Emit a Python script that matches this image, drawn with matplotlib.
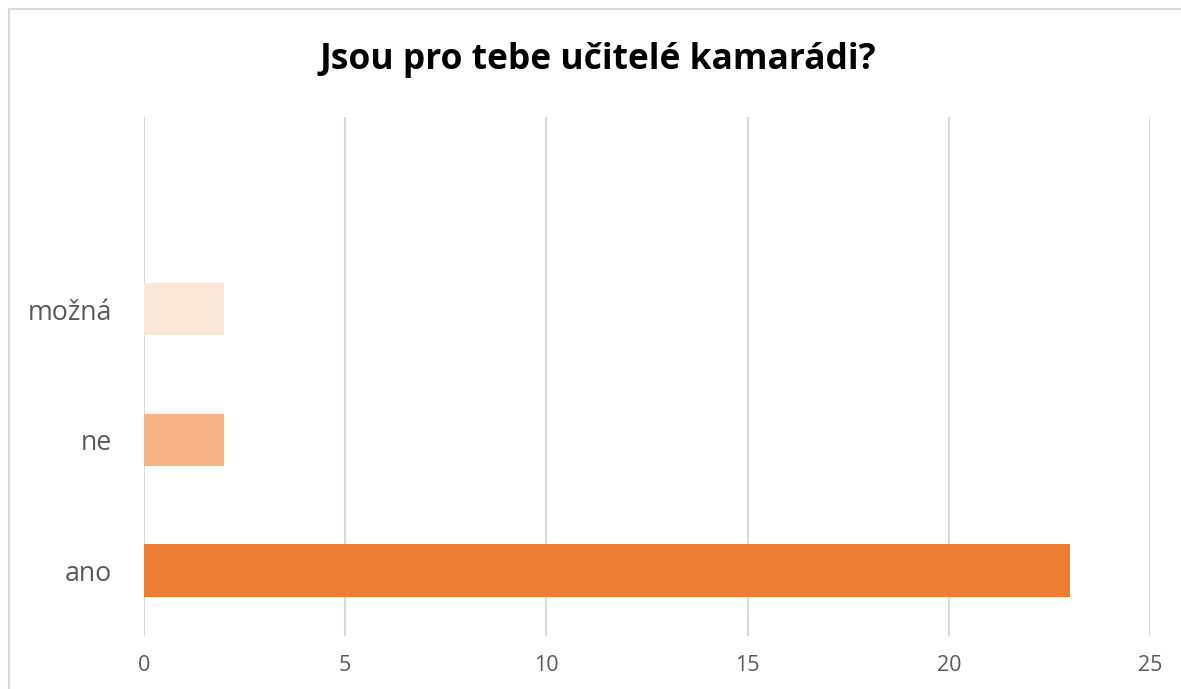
import matplotlib
matplotlib.use("Agg")
import matplotlib.pyplot as plt
from matplotlib.lines import Line2D

categories = ["ano", "ne", "možná"]
values = [23, 2, 2]
colors = ["#ED7D31", "#F4B183", "#FBE5D6"]
xticks = [0, 5, 10, 15, 20, 25]
title = "Jsou pro tebe učitelé kamarádi?"

plt.rcParams['font.family'] = ['Open Sans', 'DejaVu Sans']

fig = plt.figure(figsize=(11.81, 6.89), dpi=100)
ax = fig.add_axes([144/1181, 1-636/689, (1150-144)/1181, (636-117)/689])

ax.barh(range(len(categories)), values, height=0.4, color=colors, zorder=3)
ax.set_xlim(0, 25)
ax.set_ylim(-0.5, 3.47)
ax.set_xticks(xticks)
ax.set_xticklabels([str(t) for t in xticks], fontsize=15.5, color="#595959")
ax.set_yticks(range(len(categories)))
ax.set_yticklabels(categories, fontsize=19.3, color="#595959")
ax.tick_params(axis='both', length=0)
ax.tick_params(axis='x', pad=14)
ax.tick_params(axis='y', pad=23)
ax.grid(axis='x', color="#D9D9D9", linewidth=1.5, zorder=0)
for s in ax.spines.values():
    s.set_visible(False)

fig.text(598/1181, 1-60/689, title, fontsize=25.5, fontweight='bold', ha='center', va='center', color='black')

# chart border
fig.add_artist(Line2D([8.5/1181, 8.5/1181], [0, 1-8.5/689], transform=fig.transFigure, color="#D9D9D9", linewidth=1.5))
fig.add_artist(Line2D([8.5/1181, 1], [1-8.5/689, 1-8.5/689], transform=fig.transFigure, color="#D9D9D9", linewidth=1.5))

fig.savefig("out.png", dpi=100, facecolor="white")
